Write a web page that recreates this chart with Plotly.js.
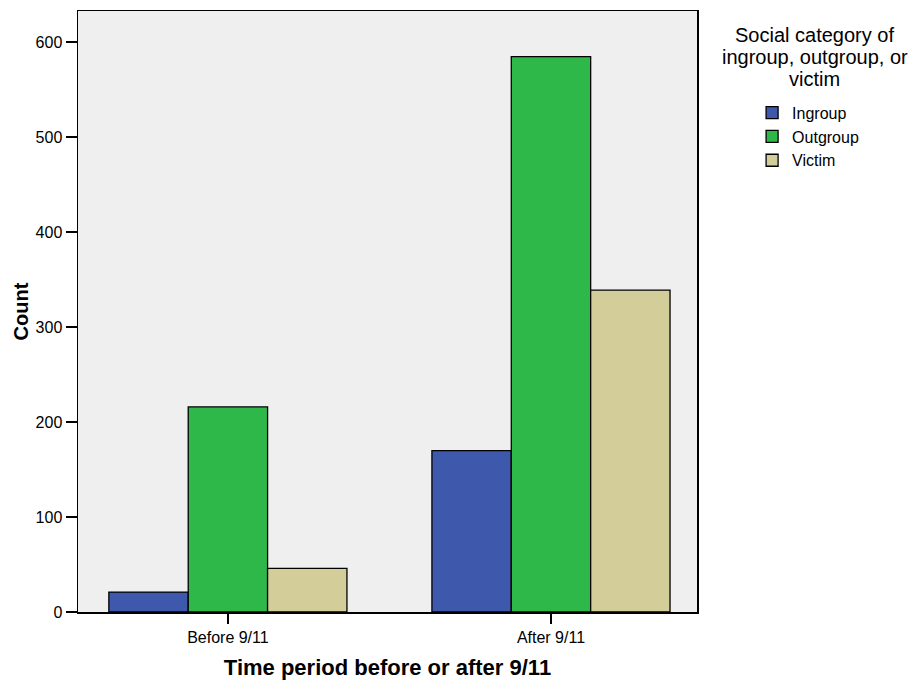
<!DOCTYPE html>
<html>
<head>
<meta charset="utf-8">
<script src="https://cdn.plot.ly/plotly-3.0.1.min.js"></script>
<style>html,body{margin:0;padding:0;background:#fff;}#chart{width:913px;height:681px;}</style>
</head>
<body>
<div id="chart"></div>
<script>
const periods = ["Before 9/11", "After 9/11"];
const seriesNames = ["Ingroup", "Outgroup", "Victim"];
const ingroup = [21, 170];
const outgroup = [216, 585];
const victim = [46, 339];
const yTicks = [0, 100, 200, 300, 400, 500, 600];
const legendTitleLines = ["Social category of", "ingroup, outgroup, or", "victim"];
const colors = ["#3e58ac", "#2fb84a", "#d3ce99"];
const values = [ingroup, outgroup, victim];

const FONT = "Arial, 'Liberation Sans', sans-serif";

const traces = seriesNames.map((name, i) => ({
  type: "bar",
  name: name,
  x: periods,
  y: values[i],
  legendgroup: name,
  marker: {color: colors[i], line: {color: "#000", width: 1.3}},
  hoverinfo: "x+y+name"
}));

// legend title: three centred lines, ~22px apart
const plotH = 681 - 11 - 69;
const titleAnnotations = legendTitleLines.map((t, k) => ({
  xref: "paper", yref: "paper",
  x: 1.19, y: 1 + (11 - 35 - 22 * k) / plotH,
  xanchor: "center", yanchor: "middle",
  text: t, showarrow: false,
  font: {family: FONT, size: 20, color: "#000"}
}));

const layout = {
  width: 913,
  height: 681,
  margin: {l: 78, r: 216, t: 11, b: 69},
  paper_bgcolor: "#ffffff",
  plot_bgcolor: "#efefef",
  font: {family: FONT, color: "#000", size: 16},
  barmode: "group",
  bargap: 0.263,
  bargroupgap: 0,
  showlegend: true,
  legend: {
    x: 1.089, xanchor: "left",
    y: 0.859, yanchor: "top",
    font: {family: FONT, size: 16, color: "#000"},
    bgcolor: "rgba(0,0,0,0)",
    tracegroupgap: 2,
    traceorder: "normal"
  },
  xaxis: {
    type: "category",
    range: [-0.464, 1.452],
    showline: true, linecolor: "#000", linewidth: 1.5, mirror: true,
    ticks: "outside", ticklen: 10, tickwidth: 1.5, tickcolor: "#000",
    showgrid: false, zeroline: false,
    tickfont: {family: FONT, size: 16, color: "#000"},
    title: {text: "<b>Time period before or after 9/11</b>", font: {family: FONT, size: 22, color: "#000"}, standoff: 15}
  },
  yaxis: {
    range: [0, 633],
    tickvals: yTicks,
    ticktext: yTicks.map(String),
    showline: true, linecolor: "#000", linewidth: 1.5, mirror: true,
    ticks: "outside", ticklen: 11, tickwidth: 2, tickcolor: "#000",
    showgrid: false, zeroline: false,
    tickfont: {family: FONT, size: 16, color: "#000"},
    title: {text: "<b>Count</b>", font: {family: FONT, size: 20, color: "#000"}, standoff: 1}
  },
  annotations: titleAnnotations
};

Plotly.newPlot("chart", traces, layout, {displayModeBar: false, staticPlot: true});
</script>
</body>
</html>
